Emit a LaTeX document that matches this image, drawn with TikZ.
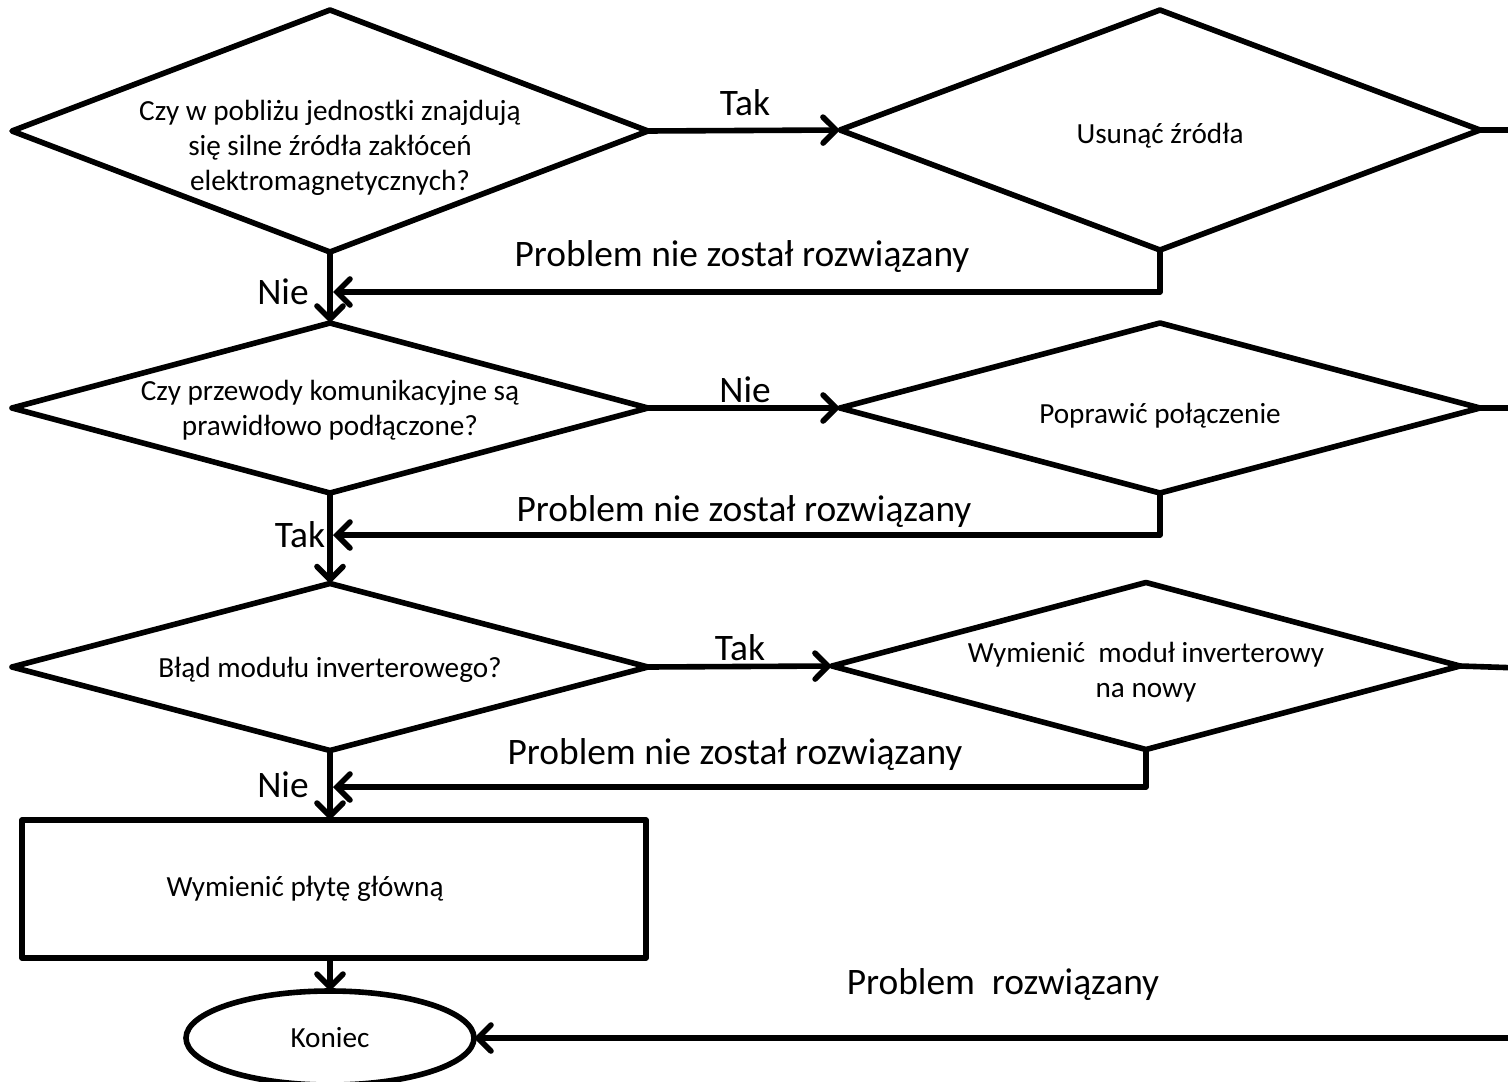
\documentclass[tikz,border=0pt]{standalone}
\usepackage{fontspec}
\setmainfont{Carlito}
\usetikzlibrary{arrows.meta,shapes.geometric}
\begin{document}
\begin{tikzpicture}[x=.5pt,y=-.5pt,line width=2.8pt,line join=round,
	dec/.style={draw,diamond,inner sep=0pt,outer sep=0pt},
	blk/.style={draw,rectangle,inner sep=0pt,outer sep=0pt},
	fin/.style={draw,ellipse,inner sep=0pt,outer sep=0pt},
	txt/.style={align=center,font=\fontsize{14.6}{17.5}\selectfont},
	lbl/.style={font=\fontsize{18.7}{22}\selectfont},
	arr/.style={-{Straight Barb[length=6.5pt,width=13pt,line cap=round]}}]
	\clip(0,0)rectangle(1508,1081);
	% decisions on the left, actions on the right
	\node[dec,minimum width=318pt,minimum height=121pt,label={[txt,yshift=-8.5pt]center:Czy w pobliżu jednostki znajdują\\się silne źródła zakłóceń\\elektromagnetycznych?}](q1)at(330,131){};
	\node[dec,minimum width=320pt,minimum height=120pt,label={[txt,yshift=-3pt]center:Usunąć źródła}](a1)at(1160,130){};
	\node[dec,minimum width=318pt,minimum height=85pt,label={[txt,yshift=-1pt]center:Czy przewody komunikacyjne są\\prawidłowo podłączone?}](q2)at(330,408){};
	\node[dec,minimum width=320pt,minimum height=85pt,label={[txt,yshift=-4pt]center:Poprawić połączenie}](a2)at(1160,408){};
	\node[dec,minimum width=318pt,minimum height=83.5pt,label={[txt,yshift=-1.5pt]center:Błąd modułu inverterowego?}](q3)at(330,667){};
	\node[dec,minimum width=314pt,minimum height=83.5pt,label={[txt,yshift=-3pt]center:Wymienić~ moduł inverterowy\\na nowy}](a3)at(1146,666){};
	\node[blk,minimum width=312pt,minimum height=69pt,label={[txt,xshift=-14.5pt]center:Wymienić płytę główną}](mb)at(334,889){};
	\node[fin,minimum width=144pt,minimum height=47pt,label={[txt]center:Koniec}](end)at(330,1038){};
	% joints on the main line and loose ends to the right
	\coordinate(j1)at(333,292);
	\coordinate(j2)at(333,535);
	\coordinate(j3)at(333,787);
	\coordinate(r1)at(1520,130);
	\coordinate(r2)at(1520,408);
	\coordinate(r3)at(1520,668);
	\coordinate(r4)at(1520,1038);
	% main line
	\draw[arr](q1.south)--(q2.north);
	\draw[arr](q2.south)--(q3.north);
	\draw[arr](q3.south)--(q3.south|-mb.north);
	\draw[arr](end.north|-mb.south)--(end.north);
	\draw[arr](q1.east)--(a1.west);
	\draw[arr](q2.east)--(a2.west);
	\draw[arr](q3.east)--(a3.west);
	% back to the main line
	\draw[arr](a1.south)|-(j1);
	\draw[arr](a2.south)|-(j2);
	\draw[arr](a3.south)|-(j3);
	\draw(a1.east)--(r1);
	\draw(a2.east)--(r2);
	\draw(a3.east)--(r3);
	\draw[arr](r4)--(end.east);
	% labels
	\draw(745,103)node[lbl]{Tak};
	\draw(745,390)node[lbl]{Nie};
	\draw(740,648)node[lbl]{Tak};
	\draw(283,292)node[lbl]{Nie};
	\draw(300,535)node[lbl]{Tak};
	\draw(283,785)node[lbl]{Nie};
	\draw(742,257)node[lbl]{Problem nie został rozwiązany};
	\draw(744,512)node[lbl]{Problem nie został rozwiązany};
	\draw(735,755)node[lbl]{Problem nie został rozwiązany};
	\draw(1003,985)node[lbl]{Problem~ rozwiązany};
\end{tikzpicture}
\end{document}
